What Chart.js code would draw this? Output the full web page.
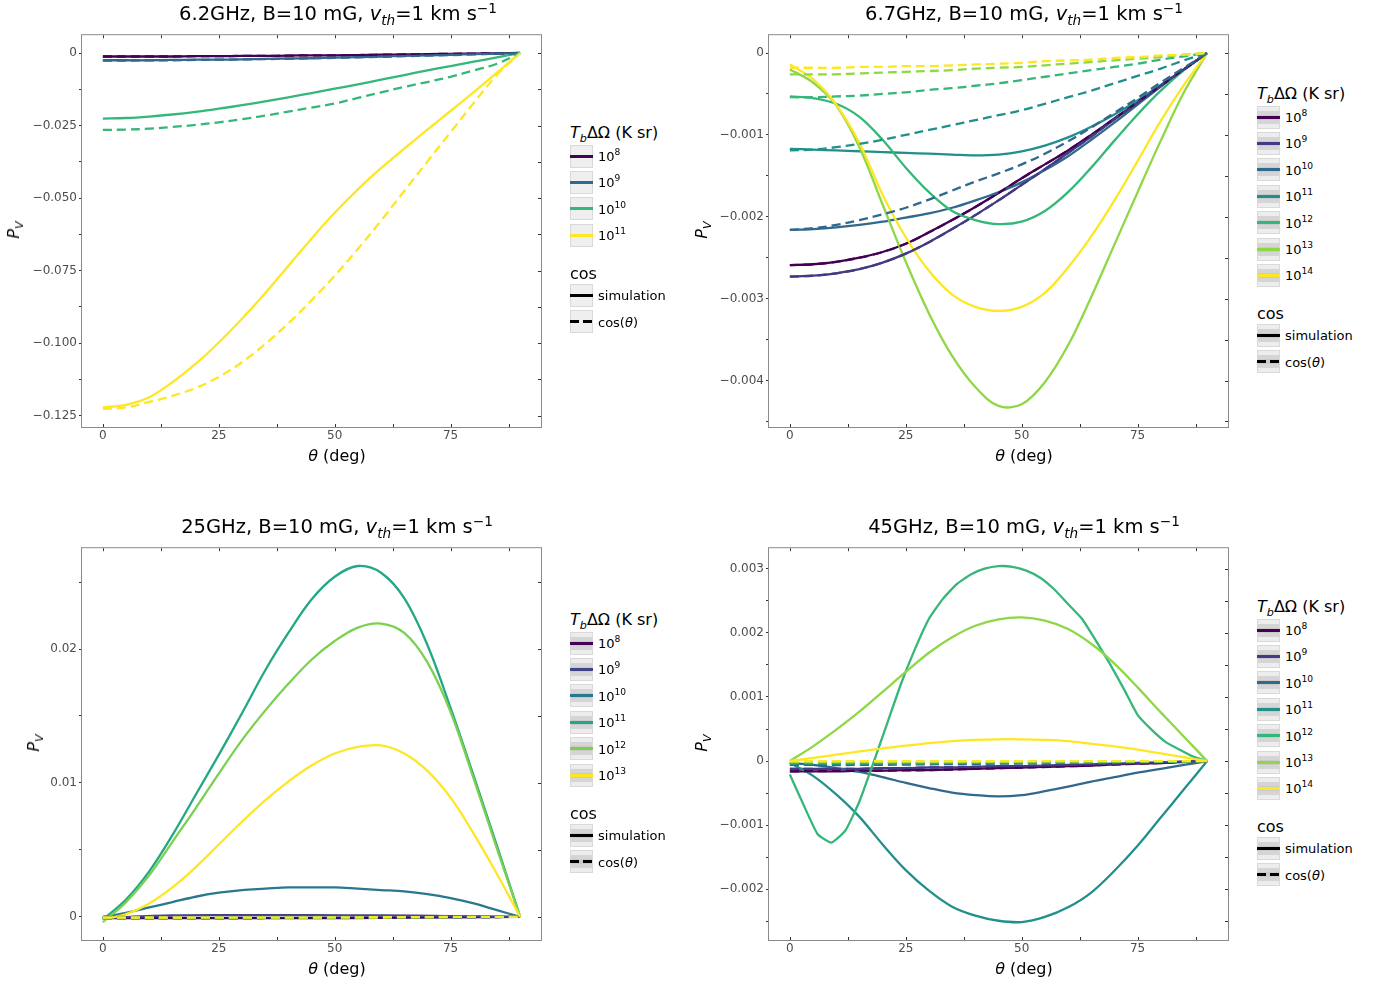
<!DOCTYPE html>
<html lang="en">
<head>
<meta charset="utf-8">
<title>P_V vs theta</title>
<script src="https://cdn.jsdelivr.net/npm/chart.js@4.4.1/dist/chart.umd.min.js"></script>
<style>
  body { margin: 0; background: #fff; }
  #fig { position: relative; width: 1376px; height: 987px; overflow: hidden; font-family: "DejaVu Sans", sans-serif; color: #000; }
  #fig canvas { position: absolute; }
  .txt { position: absolute; white-space: nowrap; transform: translate(-50%, -50%); line-height: 1; }
  .txt.left { transform: translate(0, -50%); }
  .txt.rot { transform: translate(-50%, -50%) rotate(-90deg); }
  .title { font-size: 19.5px; }
  .axis { font-size: 16px; }
  .lg-title { font-size: 16px; }
  .lg-label { font-size: 13px; }
  sub, sup { font-size: 0.7em; line-height: 0; }
  .key { position: absolute; width: 23px; height: 23px; box-sizing: border-box; border: 1px solid #d9d9d9; background: #efefef; }
  .key.striped { background: linear-gradient(#ededed 0 20%, #d5d5d5 20% 38%, #cacaca 38% 62%, #d5d5d5 62% 80%, #ededed 80% 100%); }
  .key span { position: absolute; left: -1px; right: -1px; top: 50%; height: 3px; margin-top: -1.5px; }
</style>
</head>
<body>
<div id="fig">
  <canvas id="c62"></canvas>
  <canvas id="c67"></canvas>
  <canvas id="c25"></canvas>
  <canvas id="c45"></canvas>

  <div class="txt title" style="left:338px;top:14px">6.2GHz, B=10 mG, <i>v</i><sub><i>th</i></sub>=1 km s<sup>−1</sup></div>
  <div class="txt title" style="left:1024px;top:14px">6.7GHz, B=10 mG, <i>v</i><sub><i>th</i></sub>=1 km s<sup>−1</sup></div>
  <div class="txt title" style="left:337px;top:527px">25GHz, B=10 mG, <i>v</i><sub><i>th</i></sub>=1 km s<sup>−1</sup></div>
  <div class="txt title" style="left:1024px;top:527px">45GHz, B=10 mG, <i>v</i><sub><i>th</i></sub>=1 km s<sup>−1</sup></div>

  <div class="txt axis" style="left:337px;top:456px"><i>θ</i> (deg)</div>
  <div class="txt axis" style="left:1024px;top:456px"><i>θ</i> (deg)</div>
  <div class="txt axis" style="left:337px;top:969px"><i>θ</i> (deg)</div>
  <div class="txt axis" style="left:1024px;top:969px"><i>θ</i> (deg)</div>

  <div class="txt axis rot" style="left:14px;top:230px"><i>P</i><sub><i>V</i></sub></div>
  <div class="txt axis rot" style="left:702px;top:230px"><i>P</i><sub><i>V</i></sub></div>
  <div class="txt axis rot" style="left:34px;top:743px"><i>P</i><sub><i>V</i></sub></div>
  <div class="txt axis rot" style="left:702px;top:743px"><i>P</i><sub><i>V</i></sub></div>
</div>

<script>
// --- Rejillas de ángulo (grados) ---
const THETA = [0, 5, 10, 15, 20, 25, 30, 35, 40, 45, 50, 55, 60, 65, 70, 75, 80, 85, 90];
const THETA_3 = [0, 3, 6, 9, 12, 15, 18, 21, 24, 27, 30, 33, 36, 39, 42, 45, 48, 51, 54, 57, 60, 63, 66, 69, 72, 75, 78, 81, 84, 87, 90];
const THETA_C = [0, 15, 30, 45, 60, 75, 90];

// --- Ticks ---
const X_TICKS = [0, 25, 50, 75];
const X_LABELS = ['0', '25', '50', '75'];

const Y_TICKS_62 = [-0.125, -0.1, -0.075, -0.05, -0.025, 0];
const Y_LABELS_62 = ['−0.125', '−0.100', '−0.075', '−0.050', '−0.025', '0'];
const Y_TICKS_67 = [-0.004, -0.003, -0.002, -0.001, 0];
const Y_LABELS_67 = ['−0.004', '−0.003', '−0.002', '−0.001', '0'];
const Y_TICKS_25 = [0, 0.01, 0.02];
const Y_LABELS_25 = ['0', '0.01', '0.02'];
const Y_TICKS_45 = [-0.002, -0.001, 0, 0.001, 0.002, 0.003];
const Y_LABELS_45 = ['−0.002', '−0.001', '0', '0.001', '0.002', '0.003'];

// --- Leyendas: exponentes de T_b ΔΩ ---
const TB_62 = ['8', '9', '10', '11'];
const TB_67 = ['8', '9', '10', '11', '12', '13', '14'];
const TB_25 = ['8', '9', '10', '11', '12', '13'];
const TB_45 = ['8', '9', '10', '11', '12', '13', '14'];

// --- Colores (viridis) ---
const VIRIDIS_4 = ['#440154', '#31688E', '#35B779', '#FDE725'];
const VIRIDIS_6 = ['#440154', '#414487', '#2A788E', '#22A884', '#7AD151', '#FDE725'];
const VIRIDIS_7 = ['#440154', '#443A83', '#31688E', '#21908C', '#35B779', '#8FD744', '#FDE725'];

// --- 6.2 GHz ---
const SIM_62 = [
  [-0.0012, -0.0012, -0.0012, -0.0012, -0.0011, -0.0011, -0.0010, -0.0010, -0.0009, -0.0008, -0.0008, -0.0007, -0.0006, -0.0005, -0.0004, -0.0003, -0.0002, -0.0001, 0],
  [-0.0025, -0.0025, -0.0025, -0.0024, -0.0023, -0.0023, -0.0022, -0.0020, -0.0019, -0.0018, -0.0016, -0.0014, -0.0012, -0.0010, -0.0008, -0.0006, -0.0004, -0.0002, 0],
  [-0.0226, -0.0224, -0.0219, -0.0212, -0.0203, -0.0192, -0.0180, -0.0167, -0.0153, -0.0138, -0.0123, -0.0108, -0.0092, -0.0076, -0.0060, -0.0045, -0.0030, -0.0015, 0],
  [-0.1222, -0.1213, -0.1187, -0.1135, -0.1072, -0.0998, -0.0916, -0.0828, -0.0734, -0.0640, -0.0551, -0.0470, -0.0397, -0.0330, -0.0264, -0.0200, -0.0135, -0.0068, 0]
];
const COS_62 = [
  [-0.0012, -0.0012, -0.0012, -0.0012, -0.0011, -0.0011, -0.0010, -0.0010, -0.0009, -0.0008, -0.0008, -0.0007, -0.0006, -0.0005, -0.0004, -0.0003, -0.0002, -0.0001, 0],
  [-0.0026, -0.0026, -0.0025, -0.0025, -0.0024, -0.0023, -0.0022, -0.0021, -0.0020, -0.0018, -0.0017, -0.0015, -0.0013, -0.0011, -0.0009, -0.0007, -0.0005, -0.0002, 0],
  [-0.0265, -0.0264, -0.0261, -0.0255, -0.0248, -0.0239, -0.0228, -0.0216, -0.0202, -0.0188, -0.0174, -0.0155, -0.0136, -0.0117, -0.0100, -0.0082, -0.0060, -0.0037, 0],
  [-0.1227, -0.1222, -0.1203, -0.1182, -0.1155, -0.1117, -0.1066, -0.1004, -0.0932, -0.0853, -0.0768, -0.0676, -0.0578, -0.0476, -0.0374, -0.0273, -0.0172, -0.0075, 0]
];

// --- 6.7 GHz ---
const SIM_67 = [
  [-0.00259, -0.00258, -0.00255, -0.00250, -0.00243, -0.00233, -0.00219, -0.00204, -0.00188, -0.00171, -0.00153, -0.00136, -0.00119, -0.00100, -0.00080, -0.00060, -0.00040, -0.00020, 0],
  [-0.00273, -0.00272, -0.00269, -0.00264, -0.00256, -0.00245, -0.00231, -0.00215, -0.00198, -0.00180, -0.00161, -0.00142, -0.00122, -0.00102, -0.00081, -0.00061, -0.00040, -0.00020, 0],
  [-0.00216, -0.00215, -0.00213, -0.00210, -0.00206, -0.00201, -0.00196, -0.00189, -0.00180, -0.00170, -0.00158, -0.00143, -0.00126, -0.00106, -0.00085, -0.00063, -0.00041, -0.00020, 0],
  [-0.00117, -0.00118, -0.00119, -0.00120, -0.00121, -0.00122, -0.00123, -0.00124, -0.00125, -0.00124, -0.00120, -0.00113, -0.00103, -0.00090, -0.00075, -0.00058, -0.00039, -0.00020, 0],
  [-0.00053, -0.00055, -0.00062, -0.00078, -0.00106, -0.00140, -0.00170, -0.00193, -0.00204, -0.00209, -0.00206, -0.00193, -0.00170, -0.00140, -0.00107, -0.00075, -0.00046, -0.00021, 0],
  [-0.00020, -0.00036, -0.00064, -0.00115, -0.00185, -0.00255, -0.00318, -0.00370, -0.00408, -0.00431, -0.00429, -0.00402, -0.00357, -0.00298, -0.00234, -0.00170, -0.00107, -0.00048, 0],
  [-0.00014, -0.00032, -0.00063, -0.00110, -0.00173, -0.00225, -0.00266, -0.00295, -0.00310, -0.00315, -0.00310, -0.00293, -0.00262, -0.00224, -0.00180, -0.00132, -0.00083, -0.00039, 0]
];
const COS_67 = [
  [-0.00259, -0.00258, -0.00255, -0.00250, -0.00243, -0.00233, -0.00219, -0.00204, -0.00188, -0.00171, -0.00153, -0.00136, -0.00119, -0.00100, -0.00080, -0.00060, -0.00040, -0.00020, 0],
  [-0.00273, -0.00272, -0.00269, -0.00264, -0.00256, -0.00245, -0.00231, -0.00215, -0.00198, -0.00180, -0.00161, -0.00142, -0.00122, -0.00102, -0.00081, -0.00061, -0.00040, -0.00020, 0],
  [-0.00216, -0.00214, -0.00210, -0.00204, -0.00197, -0.00189, -0.00179, -0.00168, -0.00157, -0.00147, -0.00136, -0.00123, -0.00108, -0.00091, -0.00073, -0.00055, -0.00036, -0.00018, 0],
  [-0.00119, -0.00118, -0.00115, -0.00111, -0.00106, -0.00100, -0.00094, -0.00088, -0.00082, -0.00076, -0.00070, -0.00062, -0.00054, -0.00046, -0.00037, -0.00028, -0.00019, -0.00009, 0],
  [-0.00054, -0.00054, -0.00053, -0.00052, -0.00050, -0.00048, -0.00045, -0.00043, -0.00040, -0.00037, -0.00033, -0.00029, -0.00025, -0.00021, -0.00017, -0.00013, -0.00008, -0.00004, 0],
  [-0.00026, -0.00026, -0.00026, -0.00025, -0.00024, -0.00023, -0.00022, -0.00021, -0.00019, -0.00018, -0.00017, -0.00015, -0.00013, -0.00011, -0.00009, -0.00007, -0.00005, -0.00002, 0],
  [-0.00018, -0.00018, -0.00018, -0.00017, -0.00017, -0.00016, -0.00016, -0.00015, -0.00014, -0.00013, -0.00012, -0.00010, -0.00009, -0.00008, -0.00006, -0.00005, -0.00003, -0.00002, 0]
];

// --- 25 GHz ---
const SIM_25 = [
  [-0.0001, -0.0001, -0.0001, -0.0001, -0.00007, -0.00004, 0],
  [-0.0001, 0.0001, 0.00012, 0.00012, 0.0001, 0.00006, 0],
  [0, 0.0003, 0.0007, 0.0011, 0.0015, 0.0018, 0.0020, 0.0021, 0.0022, 0.0022, 0.0022, 0.0021, 0.0020, 0.0019, 0.0017, 0.0014, 0.0010, 0.0005, 0],
  [-0.0002, 0.0013, 0.0034, 0.0061, 0.0091, 0.0121, 0.0152, 0.0184, 0.0212, 0.0237, 0.0254, 0.0262, 0.0257, 0.0238, 0.0203, 0.0156, 0.0105, 0.0053, 0],
  [-0.0004, 0.0011, 0.0031, 0.0056, 0.0081, 0.0107, 0.0132, 0.0154, 0.0174, 0.0192, 0.0206, 0.0216, 0.0219, 0.0212, 0.0190, 0.0153, 0.0103, 0.0051, 0],
  [-0.0002, 0.0002, 0.0010, 0.0022, 0.0037, 0.0054, 0.0071, 0.0087, 0.0101, 0.0113, 0.0122, 0.0127, 0.0128, 0.0122, 0.0109, 0.0089, 0.0062, 0.0032, 0]
];
const COS_25 = [
  [-0.0001, -0.0001, -0.00009, -0.00007, -0.00005, -0.00003, 0],
  [-0.0001, -0.0001, -0.00009, -0.00007, -0.00005, -0.00003, 0],
  [0, 0, 0, 0, 0, 0, 0],
  [-0.0001, -0.0001, -0.00009, -0.00007, -0.00005, -0.00003, 0],
  [-0.0001, -0.0001, -0.00009, -0.00007, -0.00005, -0.00003, 0],
  [-0.00005, -0.00005, -0.00004, -0.00004, -0.00003, -0.00001, 0]
];

// --- 45 GHz ---
const SIM_45 = [
  [-0.00016, -0.00016, -0.00016, -0.00015, -0.00015, -0.00014, -0.00014, -0.00013, -0.00012, -0.00011, -0.00010, -0.00009, -0.00008, -0.00007, -0.00005, -0.00004, -0.00003, -0.00001, 0],
  [-0.00012, -0.00012, -0.00012, -0.00012, -0.00011, -0.00011, -0.00010, -0.00010, -0.00009, -0.00008, -0.00008, -0.00007, -0.00006, -0.00005, -0.00004, -0.00003, -0.00002, -0.00001, 0],
  [-0.00003, -0.00006, -0.00011, -0.00017, -0.00025, -0.00034, -0.00042, -0.00049, -0.00053, -0.00055, -0.00053, -0.00047, -0.00040, -0.00032, -0.00025, -0.00018, -0.00012, -0.00006, 0],
  [-0.00003, -0.00023, -0.00052, -0.00087, -0.00130, -0.00170, -0.00202, -0.00227, -0.00241, -0.00249, -0.00251, -0.00243, -0.00228, -0.00205, -0.00171, -0.00132, -0.00088, -0.00044, 0],
  [-0.00021, -0.00069, -0.00114, -0.00127, -0.00108, -0.00063, -0.00003, 0.00059, 0.00121, 0.00175, 0.00222, 0.00253, 0.00276, 0.00291, 0.00300, 0.00304, 0.00303, 0.00297, 0.00286, 0.00268, 0.00245, 0.00222, 0.00188, 0.00152, 0.00113, 0.00072, 0.00049, 0.00030, 0.00018, 0.00007, 0],
  [0, 0.00023, 0.00049, 0.00077, 0.00108, 0.00139, 0.00169, 0.00193, 0.00211, 0.00221, 0.00224, 0.00219, 0.00206, 0.00183, 0.00152, 0.00115, 0.00076, 0.00038, 0],
  [0, 0.00005, 0.00010, 0.00015, 0.00020, 0.00024, 0.00028, 0.00031, 0.00033, 0.00034, 0.00034, 0.00033, 0.00031, 0.00027, 0.00023, 0.00018, 0.00012, 0.00006, 0]
];
const COS_45 = [
  [-0.00016, -0.00015, -0.00014, -0.00011, -0.00008, -0.00004, 0],
  [-0.00012, -0.00012, -0.00010, -0.00008, -0.00006, -0.00003, 0],
  [-0.00006, -0.00006, -0.00005, -0.00004, -0.00003, -0.00002, 0],
  [-0.00004, -0.00004, -0.00003, -0.00003, -0.00002, -0.00001, 0],
  [-0.00003, -0.00003, -0.00003, -0.00002, -0.00002, -0.00001, 0],
  [-0.00001, -0.00001, -0.00001, -0.00001, 0, 0, 0],
  [0, 0, 0, 0, 0, 0, 0]
];

// --- Disposición de los paneles ---
const PLOT_W = 459;
const PLOT_H = 393;
const AXIS_W = 80;   // ancho reservado a las etiquetas del eje y
const AXIS_H = 30;   // alto reservado al eje x
const PAD = 8;
const X_RANGE = [-4.5, 94.5];

const PANELS = [
  { id: 'c62', left: 82, top: 34, yRange: [-0.12894, 0.00614], yTicks: Y_TICKS_62, yLabels: Y_LABELS_62,
    tb: TB_62, colors: VIRIDIS_4, sim: SIM_62, cos: COS_62, legendX: 570, legendY: 133, striped: false },
  { id: 'c67', left: 769, top: 34, yRange: [-0.0045675, 0.0002175], yTicks: Y_TICKS_67, yLabels: Y_LABELS_67,
    tb: TB_67, colors: VIRIDIS_7, sim: SIM_67, cos: COS_67, legendX: 1257, legendY: 94, striped: true },
  { id: 'c25', left: 82, top: 547, yRange: [-0.00173, 0.02753], yTicks: Y_TICKS_25, yLabels: Y_LABELS_25,
    tb: TB_25, colors: VIRIDIS_6, sim: SIM_25, cos: COS_25, legendX: 570, legendY: 620, striped: true },
  { id: 'c45', left: 769, top: 547, yRange: [-0.00279, 0.00332], yTicks: Y_TICKS_45, yLabels: Y_LABELS_45,
    tb: TB_45, colors: VIRIDIS_7, sim: SIM_45, cos: COS_45, legendX: 1257, legendY: 607, striped: true }
];

// elige la rejilla de theta según la longitud de la serie
function gridFor(ys) {
  if (ys.length === THETA.length) return THETA;
  if (ys.length === THETA_3.length) return THETA_3;
  return THETA_C;
}

function lineDataset(ys, color, dashed, order) {
  const xs = gridFor(ys);
  const fine = ys.length === THETA_3.length;
  return {
    data: ys.map((y, k) => ({ x: xs[k], y: y })),
    borderColor: color,
    borderWidth: 2.3,
    borderDash: dashed ? [9, 5] : [],
    pointRadius: 0,
    fill: false,
    tension: fine ? 0.15 : 0.35,
    order: order
  };
}

// ticks mayores + menores (a mitad de paso) dentro del rango
function allTicks(majors, range) {
  const step = majors[1] - majors[0];
  const out = [];
  majors.forEach(v => { out.push(v - step / 2, v, v + step / 2); });
  const uniq = [...new Set(out.map(v => Math.round(v * 1e9) / 1e9))];
  return uniq.filter(v => v >= range[0] && v <= range[1]).sort((a, b) => a - b);
}

function labelFor(majors, labels) {
  const step = Math.abs(majors[1] - majors[0]);
  return value => {
    const i = majors.findIndex(m => Math.abs(m - value) < step * 1e-3);
    return i >= 0 ? labels[i] : '';
  };
}

// marco gris + ticks interiores arriba, abajo y a la derecha
const framePlugin = {
  id: 'frame',
  afterDraw(chart) {
    const { ctx, chartArea: a } = chart;
    const x = chart.scales.x, y = chart.scales.y;
    ctx.save();
    ctx.lineWidth = 1;
    ctx.strokeStyle = '#333';
    ctx.beginPath();
    x.ticks.forEach(t => {
      const px = Math.round(x.getPixelForValue(t.value)) + 0.5;
      ctx.moveTo(px, a.top); ctx.lineTo(px, a.top + 3);
      ctx.moveTo(px, a.bottom); ctx.lineTo(px, a.bottom - 3);
    });
    y.ticks.forEach(t => {
      const py = Math.round(y.getPixelForValue(t.value)) + 0.5;
      ctx.moveTo(a.right, py); ctx.lineTo(a.right - 3, py);
    });
    ctx.stroke();
    ctx.strokeStyle = '#8a8a8a';
    ctx.strokeRect(a.left - 0.5, a.top - 0.5, a.right - a.left + 1, a.bottom - a.top + 1);
    ctx.restore();
  }
};

const tickFont = { family: 'DejaVu Sans', size: 12 };

function renderPanel(p) {
  const canvas = document.getElementById(p.id);
  canvas.width = PLOT_W + AXIS_W + PAD;
  canvas.height = PLOT_H + AXIS_H + PAD;
  canvas.style.left = (p.left - AXIS_W) + 'px';
  canvas.style.top = (p.top - PAD) + 'px';

  const datasets = [];
  p.cos.forEach((ys, i) => datasets.push(lineDataset(ys, p.colors[i], true, 20 - i)));
  p.sim.forEach((ys, i) => datasets.push(lineDataset(ys, p.colors[i], false, 40 - i)));

  const xTicks = allTicks(X_TICKS, X_RANGE);
  const yTicks = allTicks(p.yTicks, p.yRange);

  new Chart(canvas.getContext('2d'), {
    type: 'line',
    data: { datasets: datasets },
    options: {
      responsive: false,
      animation: false,
      devicePixelRatio: 1,
      layout: { padding: { left: 0, top: PAD, right: PAD, bottom: 0 } },
      plugins: { legend: { display: false }, tooltip: { enabled: false } },
      scales: {
        x: {
          type: 'linear',
          min: X_RANGE[0],
          max: X_RANGE[1],
          bounds: 'data',
          afterBuildTicks: axis => { axis.ticks = xTicks.map(v => ({ value: v })); },
          afterFit: scale => { scale.height = AXIS_H; },
          grid: { drawOnChartArea: false, drawTicks: false },
          border: { display: false },
          ticks: { autoSkip: false, maxRotation: 0, padding: 2, color: '#4d4d4d', font: tickFont,
                   callback: labelFor(X_TICKS, X_LABELS) }
        },
        y: {
          type: 'linear',
          min: p.yRange[0],
          max: p.yRange[1],
          bounds: 'data',
          afterBuildTicks: axis => { axis.ticks = yTicks.map(v => ({ value: v })); },
          afterFit: scale => { scale.width = AXIS_W; },
          grid: { drawOnChartArea: false, drawTicks: true, tickLength: 3, tickColor: '#333' },
          border: { display: false },
          ticks: { autoSkip: false, padding: 2, color: '#4d4d4d', font: tickFont,
                   callback: labelFor(p.yTicks, p.yLabels) }
        }
      }
    },
    plugins: [framePlugin]
  });
}

// --- Leyendas en HTML ---
function addText(cls, x, y, html) {
  const d = document.createElement('div');
  d.className = 'txt left ' + cls;
  d.style.left = x + 'px';
  d.style.top = y + 'px';
  d.innerHTML = html;
  document.getElementById('fig').appendChild(d);
}

function addKey(x, y, color, dashed, striped) {
  const k = document.createElement('div');
  k.className = 'key' + (striped ? ' striped' : '');
  k.style.left = x + 'px';
  k.style.top = y + 'px';
  const s = document.createElement('span');
  s.style.background = dashed
    ? 'repeating-linear-gradient(to right, ' + color + ' 0 9px, transparent 9px 13px)'
    : color;
  k.appendChild(s);
  document.getElementById('fig').appendChild(k);
}

function renderLegend(p) {
  const pitch = 26.4;
  addText('lg-title', p.legendX, p.legendY, '<i>T</i><sub><i>b</i></sub>ΔΩ (K sr)');
  const top = p.legendY + 11.5;
  p.tb.forEach((e, i) => {
    const t = top + i * pitch;
    addKey(p.legendX, t, p.colors[i], false, p.striped);
    addText('lg-label', p.legendX + 28, t + 11.5, '10<sup>' + e + '</sup>');
  });
  const cosY = top + (p.tb.length - 1) * pitch + 23 + 27;
  addText('lg-title', p.legendX, cosY, 'cos');
  const simTop = cosY + 10;
  addKey(p.legendX, simTop, '#000', false, p.striped);
  addText('lg-label', p.legendX + 28, simTop + 11.5, 'simulation');
  addKey(p.legendX, simTop + 26.5, '#000', true, p.striped);
  addText('lg-label', p.legendX + 28, simTop + 26.5 + 11.5, 'cos(<i>θ</i>)');
}

// --- Inicialización ---
window.onload = function () {
  PANELS.forEach(p => {
    renderPanel(p);
    renderLegend(p);
  });
};
</script>
</body>
</html>
